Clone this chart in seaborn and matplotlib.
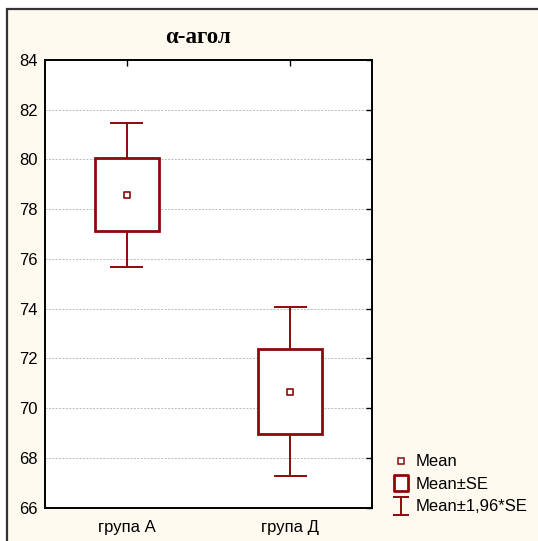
import numpy as np
import pandas as pd
import seaborn as sns
import matplotlib
matplotlib.use("Agg")
import matplotlib.pyplot as plt
from matplotlib.lines import Line2D
from matplotlib.patches import Rectangle
from matplotlib.path import Path

# data
groups = ["група А", "група Д"]
means = [78.57, 70.66]
se_low = [77.14, 68.97]
se_high = [80.06, 72.38]
ci_low = [75.69, 67.27]
ci_high = [81.48, 74.07]
title = "α-агол"
legend_labels = ["Mean", "Mean±SE", "Mean±1,96*SE"]

df = pd.DataFrame({"group": groups, "mean": means, "se_low": se_low,
                   "se_high": se_high, "ci_low": ci_low, "ci_high": ci_high})

sns.set_style("white")
plt.rcParams["font.family"] = ["Liberation Sans", "DejaVu Sans"]
plt.rcParams["text.color"] = "black"

red = "#8B0A0A"
cream = "#FEFAF0"

fig = plt.figure(figsize=(5.38, 5.41), dpi=100, facecolor="white")
bg = Rectangle((7 / 538, -0.1), 1.2, 1 - 9 / 541 + 0.1, transform=fig.transFigure,
               facecolor=cream, edgecolor="#333333", linewidth=1.6, zorder=-10)
fig.add_artist(bg)

ax = fig.add_axes([45 / 538, 33.3 / 541, 327 / 538, 447.7 / 541])
ax.set_zorder(1)
ax.set_facecolor("white")
x = np.arange(len(groups))

# whiskers (Mean±1.96*SE)
ax.vlines(x, df["ci_low"], df["se_low"], color=red, lw=1.4, zorder=3)
ax.vlines(x, df["se_high"], df["ci_high"], color=red, lw=1.4, zorder=3)
ax.hlines(df["ci_low"], x - 0.1, x + 0.1, color=red, lw=1.4, zorder=3)
ax.hlines(df["ci_high"], x - 0.1, x + 0.1, color=red, lw=1.4, zorder=3)
# boxes (Mean±SE)
ax.bar(x, df["se_high"] - df["se_low"], bottom=df["se_low"], width=0.39,
       facecolor="white", edgecolor=red, linewidth=2.0, zorder=3)
# means
sns.scatterplot(x=x, y=df["mean"], ax=ax, marker="s", s=22, facecolor="white",
                edgecolor=red, linewidth=1.2, zorder=4, legend=False)

ax.set_xlim(-0.5, 1.5)
ax.set_ylim(66, 84)
ax.set_yticks(np.arange(66, 85, 2))
ax.set_xticks(x)
ax.set_xticklabels(groups)
ax.set_xlabel("")
ax.set_ylabel("")
ax.grid(axis="y", color="#BBBBBB", linestyle=(0, (2, 1.5)), linewidth=0.7)
ax.grid(axis="x", visible=False)
ax.tick_params(direction="in", length=4, width=1, top=True, right=True,
               labelsize=12, colors="black", labelcolor="black", pad=5)
ax.tick_params(axis="x", pad=9)
for s in ax.spines.values():
    s.set_color("black")
    s.set_linewidth(1.4)

fig.text(198 / 538, 1 - 42.7 / 541, title, fontsize=16.5, fontweight="bold",
         color="black", ha="center", va="baseline",
         family=["Liberation Serif", "DejaVu Serif"])

ibar = Path([(-0.89, 1), (0.89, 1), (0, 1), (0, -1), (-0.89, -1), (0.89, -1)],
            [Path.MOVETO, Path.LINETO, Path.MOVETO, Path.LINETO, Path.MOVETO, Path.LINETO])
rect = Path([(-0.89, -1), (0.89, -1), (0.89, 1), (-0.89, 1), (-0.89, -1)],
            [Path.MOVETO, Path.LINETO, Path.LINETO, Path.LINETO, Path.CLOSEPOLY])
handles = [
    Line2D([], [], ls="none", marker="s", markersize=4.5, markerfacecolor="white",
           markeredgecolor=red, markeredgewidth=1.1),
    Line2D([], [], ls="none", marker=rect, markersize=12, markerfacecolor="white",
           markeredgecolor=red, markeredgewidth=2.0),
    Line2D([], [], ls="none", marker=ibar, markersize=12.5, markerfacecolor="none",
           markeredgecolor=red, markeredgewidth=1.4),
]
leg = fig.legend(handles, legend_labels, loc="lower left",
                 bbox_to_anchor=(381 / 538, 15 / 541), frameon=False, fontsize=12,
                 handlelength=1.0, handletextpad=0.4, labelspacing=0.45, borderpad=0.2)
for t in leg.get_texts():
    t.set_color("black")

fig.savefig("out.png", dpi=100, facecolor="white")
